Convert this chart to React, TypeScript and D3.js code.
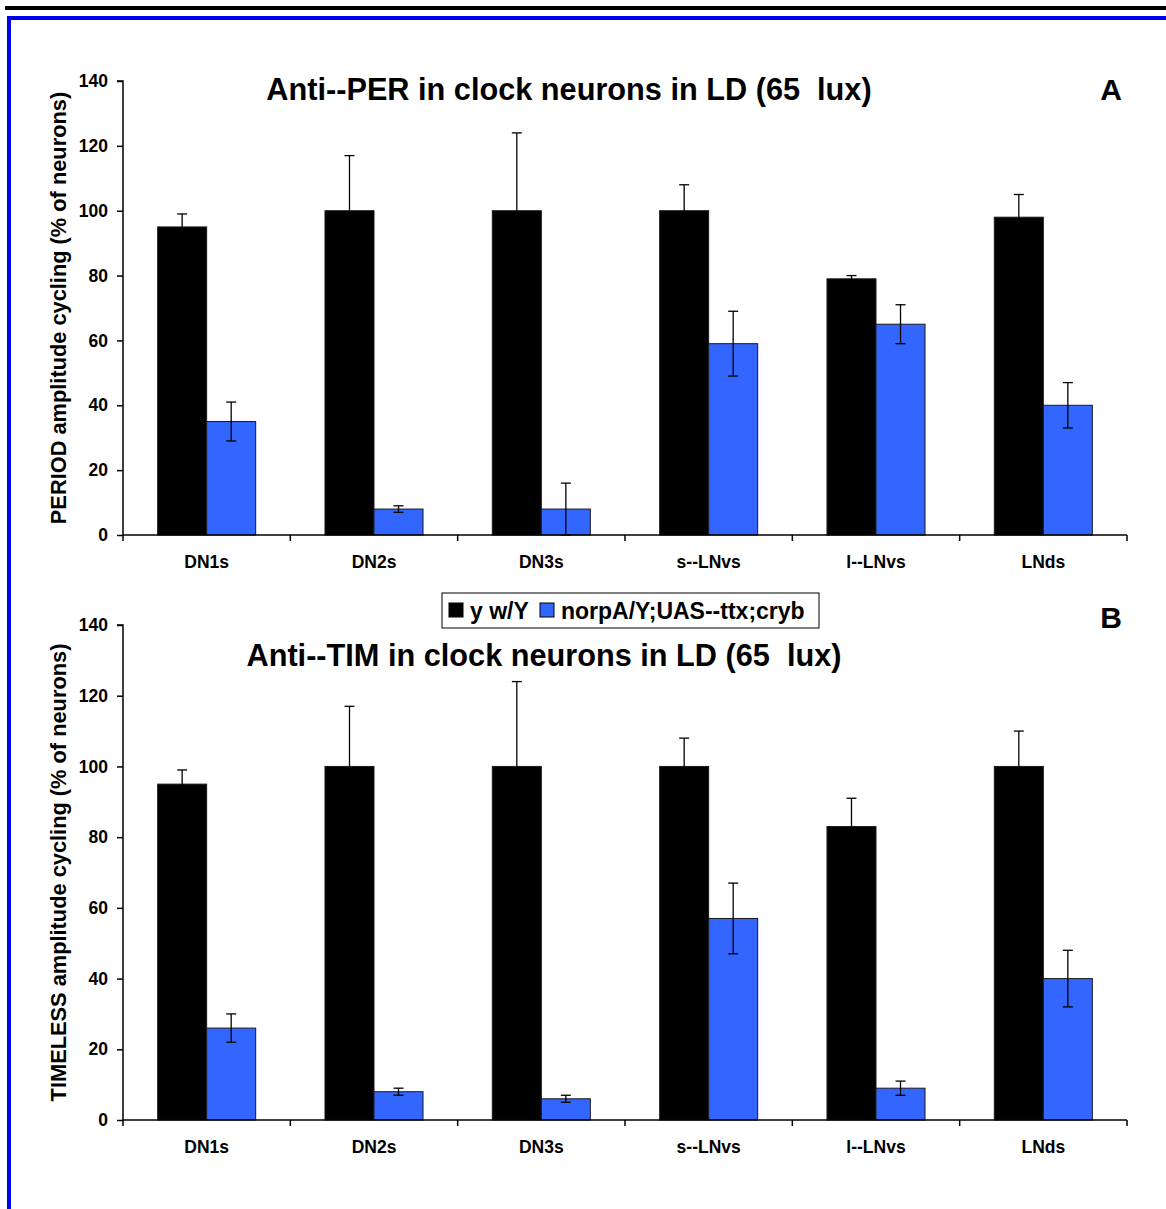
import { useRef, useEffect } from 'react';
import * as d3 from 'd3';

const categories = ['DN1s', 'DN2s', 'DN3s', 's--LNvs', 'l--LNvs', 'LNds'];
const seriesNames = ['y w/Y', 'norpA/Y;UAS--ttx;cryb'];
const seriesColors = ['#000000', '#3366FF'];

// Panel A: PER
const perWild = [95, 100, 100, 100, 79, 98];
const perWildErr = [4, 17, 24, 8, 1, 7];
const perMutant = [35, 8, 8, 59, 65, 40];
const perMutantErr = [6, 1, 8, 10, 6, 7];

// Panel B: TIM
const timWild = [95, 100, 100, 100, 83, 100];
const timWildErr = [4, 17, 24, 8, 8, 10];
const timMutant = [26, 8, 6, 57, 9, 40];
const timMutantErr = [4, 1, 1, 10, 2, 8];

const yTicks = [0, 20, 40, 60, 80, 100, 120, 140];

const FONT = '"Liberation Sans", Arial, sans-serif';

interface Panel {
  title: string;
  titleX: number;
  titleY: number;
  letter: string;
  letterY: number;
  yLabel: string;
  top: number;
  bottom: number;
  values: number[][];
  errors: number[][];
}

const panels: Panel[] = [
  {
    title: 'Anti--PER in clock neurons in LD (65  lux)',
    titleX: 569, titleY: 100,
    letter: 'A', letterY: 100,
    yLabel: 'PERIOD amplitude cycling (% of neurons)',
    top: 81, bottom: 535,
    values: [perWild, perMutant],
    errors: [perWildErr, perMutantErr],
  },
  {
    title: 'Anti--TIM in clock neurons in LD (65  lux)',
    titleX: 544, titleY: 666,
    letter: 'B', letterY: 628,
    yLabel: 'TIMELESS amplitude cycling (% of neurons)',
    top: 625, bottom: 1120,
    values: [timWild, timMutant],
    errors: [timWildErr, timMutantErr],
  },
];

export default function App() {
  const svgRef = useRef<SVGSVGElement>(null);

  useEffect(() => {
    if (!svgRef.current) return;
    const svg = d3.select(svgRef.current);
    svg.selectAll('*').remove();

    const width = 1166;
    const height = 1209;
    svg.attr('width', width).attr('height', height).attr('viewBox', `0 0 ${width} ${height}`);

    svg.append('rect').attr('width', width).attr('height', height).attr('fill', '#fff');

    // page frame: black rule and blue border
    svg.append('line')
      .attr('x1', 5).attr('x2', width).attr('y1', 8).attr('y2', 8)
      .attr('stroke', '#000').attr('stroke-width', 4);
    svg.append('path')
      .attr('d', `M9,${height} V18 H${width}`)
      .attr('fill', 'none').attr('stroke', '#0000EE').attr('stroke-width', 4);

    const xScale = d3.scaleBand<string>().domain(categories).range([123, 1127]).padding(0);
    const inner = d3.scaleBand<number>().domain([0, 1]).range([0, xScale.bandwidth()])
      .paddingInner(0).paddingOuter(0.707);

    panels.forEach((p) => {
      const yScale = d3.scaleLinear().domain([0, 140]).range([p.bottom, p.top]);
      const g = svg.append('g');

      // bars
      p.values.forEach((vals, si) => {
        g.append('g').selectAll('rect')
          .data(vals)
          .join('rect')
          .attr('x', (_, i) => (xScale(categories[i]) ?? 0) + (inner(si) ?? 0))
          .attr('y', (d) => yScale(d))
          .attr('width', inner.bandwidth())
          .attr('height', (d) => yScale(0) - yScale(d))
          .attr('fill', seriesColors[si])
          .attr('stroke', '#1a1a1a').attr('stroke-width', 1);
      });

      // error bars
      p.values.forEach((vals, si) => {
        const eg = g.append('g').attr('stroke', '#000').attr('stroke-width', 1.3);
        vals.forEach((v, i) => {
          const cx = (xScale(categories[i]) ?? 0) + (inner(si) ?? 0) + inner.bandwidth() / 2;
          const e = p.errors[si][i];
          const y1 = yScale(v + e);
          const y0 = yScale(Math.max(0, v - e));
          eg.append('line').attr('x1', cx).attr('x2', cx).attr('y1', y1).attr('y2', y0);
          eg.append('line').attr('x1', cx - 5).attr('x2', cx + 5).attr('y1', y1).attr('y2', y1);
          eg.append('line').attr('x1', cx - 5).attr('x2', cx + 5).attr('y1', y0).attr('y2', y0);
        });
      });

      // y axis
      g.append('g')
        .attr('transform', 'translate(123,0)')
        .call(d3.axisLeft(yScale).tickValues(yTicks).tickSize(6).tickPadding(9))
        .call((a) => {
          a.attr('font-family', null).attr('font-size', null);
          a.select('.domain').attr('d', `M-6,${p.top}H0V${p.bottom + 6}`).attr('stroke', '#000').attr('stroke-width', 1.5);
          a.selectAll('line').attr('stroke', '#000').attr('stroke-width', 1.5);
          a.selectAll('text')
            .attr('fill', '#000')
            .style('font-family', FONT).style('font-size', '17.5px').style('font-weight', 'bold');
        });

      // x axis
      g.append('g')
        .attr('transform', `translate(0,${p.bottom})`)
        .call(d3.axisBottom(xScale).tickSize(0).tickPadding(21))
        .call((a) => {
          a.attr('font-family', null).attr('font-size', null);
          a.select('.domain').attr('d', 'M123,0H1127').attr('stroke', '#000').attr('stroke-width', 1.5);
          a.selectAll('text')
            .attr('fill', '#000')
            .style('font-family', FONT).style('font-size', '17.5px').style('font-weight', 'bold');
        });
      const bounds = [...categories.map((c) => xScale(c) ?? 0), 1127];
      g.append('g').selectAll('line')
        .data(bounds.slice(1))
        .join('line')
        .attr('x1', (d) => d).attr('x2', (d) => d)
        .attr('y1', p.bottom).attr('y2', p.bottom + 6)
        .attr('stroke', '#000').attr('stroke-width', 1.5);

      // titles
      svg.append('text')
        .attr('x', p.titleX).attr('y', p.titleY)
        .attr('text-anchor', 'middle')
        .style('white-space', 'pre')
        .style('font-family', FONT).style('font-size', '30.7px').style('font-weight', 'bold')
        .text(p.title);
      svg.append('text')
        .attr('x', 1111).attr('y', p.letterY)
        .attr('text-anchor', 'middle')
        .style('font-family', FONT).style('font-size', '30px').style('font-weight', 'bold')
        .text(p.letter);
      svg.append('text')
        .attr('transform', `translate(66,${(p.top + p.bottom) / 2}) rotate(-90)`)
        .attr('text-anchor', 'middle')
        .style('font-family', FONT).style('font-size', '21.8px').style('font-weight', 'bold')
        .text(p.yLabel);
    });

    // legend
    const lg = svg.append('g').attr('transform', 'translate(442,593)');
    lg.append('rect').attr('width', 377).attr('height', 35)
      .attr('fill', '#fff').attr('stroke', '#000').attr('stroke-width', 1);
    const legendX = [7, 98];
    seriesNames.forEach((name, i) => {
      lg.append('rect')
        .attr('x', legendX[i]).attr('y', 10).attr('width', 14).attr('height', 14)
        .attr('fill', seriesColors[i]).attr('stroke', '#000').attr('stroke-width', 1);
      lg.append('text')
        .attr('x', legendX[i] + 21).attr('y', 26)
        .style('font-family', FONT).style('font-size', '23px').style('font-weight', 'bold')
        .text(name);
    });
  }, []);

  return (
    <div style={{ position: 'absolute', left: 0, top: 0 }}>
      <svg ref={svgRef} style={{ display: 'block' }} />
    </div>
  );
}
